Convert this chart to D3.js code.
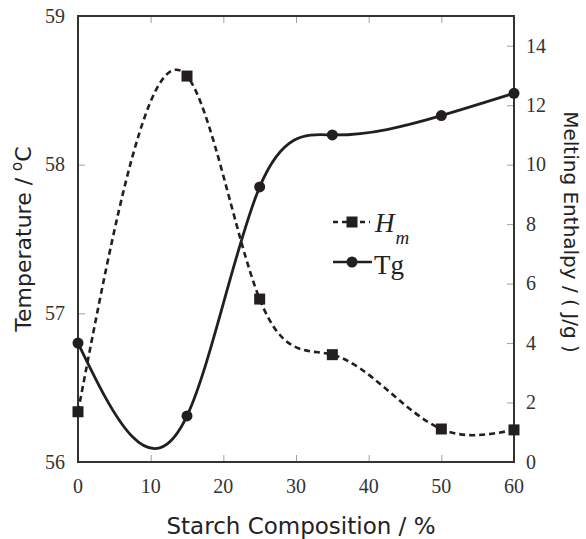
<!DOCTYPE html>
<html><head><meta charset="utf-8">
<script src="https://cdn.jsdelivr.net/npm/d3@7"></script>
<style>body{margin:0;background:#fff}</style>
</head><body>
<svg id="c" width="586" height="539"></svg>
<script>
const composition = [0, 15, 25, 35, 50, 60];
const tgValues = [56.80, 56.31, 57.85, 58.20, 58.33, 58.48];
const hmValues = [1.69, 12.98, 5.48, 3.61, 1.11, 1.08];
const xTicks = [0, 10, 20, 30, 40, 50, 60];
const leftTicks = [56, 57, 58, 59];
const rightTicks = [0, 2, 4, 6, 8, 10, 12, 14];

const svg = d3.select('#c');
const m = {l: 78, r: 514, t: 16, b: 462};
const x = d3.scaleLinear().domain([0, 60]).range([m.l, m.r]);
const yL = d3.scaleLinear().domain([56, 59]).range([m.b, m.t]);
const yR = d3.scaleLinear().domain([0, 15]).range([m.b, m.t]);

// natural cubic spline with x as the independent variable
function curveNaturalX(context) {
  let xs, ys;
  return {
    areaStart() {}, areaEnd() {},
    lineStart() { xs = []; ys = []; },
    point(px, py) { xs.push(+px); ys.push(+py); },
    lineEnd() {
      const n = xs.length;
      if (!n) return;
      context.moveTo(xs[0], ys[0]);
      if (n === 1) return;
      if (n === 2) { context.lineTo(xs[1], ys[1]); return; }
      const h = [], d = [];
      for (let i = 0; i < n - 1; i++) { h[i] = xs[i + 1] - xs[i]; d[i] = (ys[i + 1] - ys[i]) / h[i]; }
      const M = new Array(n).fill(0);
      const cp = [], rp = [];
      for (let i = 1; i < n - 1; i++) {
        const a = h[i - 1], b = 2 * (h[i - 1] + h[i]), c = h[i], r = 6 * (d[i] - d[i - 1]);
        const den = b - (i > 1 ? a * cp[i - 1] : 0);
        cp[i] = c / den;
        rp[i] = (r - (i > 1 ? a * rp[i - 1] : 0)) / den;
      }
      for (let i = n - 2; i >= 1; i--) M[i] = rp[i] - cp[i] * M[i + 1];
      for (let i = 0; i < n - 1; i++) {
        const s0 = d[i] - h[i] * (2 * M[i] + M[i + 1]) / 6;
        const s1 = d[i] + h[i] * (M[i] + 2 * M[i + 1]) / 6;
        context.bezierCurveTo(xs[i] + h[i] / 3, ys[i] + s0 * h[i] / 3,
                              xs[i + 1] - h[i] / 3, ys[i + 1] - s1 * h[i] / 3,
                              xs[i + 1], ys[i + 1]);
      }
    }
  };
}

const ink = '#231f20';
const serif = "'Liberation Serif', 'Times New Roman', serif";
const sans = "'DejaVu Sans', Verdana, sans-serif";

// ticks (inward, light grey)
const tickLen = 7, tickCol = '#a0a0a0';
const xAxisB = d3.axisBottom(x).tickValues(xTicks.slice(1, -1)).tickSize(-tickLen).tickFormat('');
const xAxisT = d3.axisTop(x).tickValues(xTicks.slice(1, -1)).tickSize(-tickLen).tickFormat('');
const yAxisL = d3.axisLeft(yL).tickValues(leftTicks.slice(1, -1)).tickSize(-tickLen).tickFormat('');
const yAxisR = d3.axisRight(yR).tickValues(rightTicks.slice(1)).tickSize(-tickLen).tickFormat('');
[[xAxisB, `translate(0,${m.b})`], [xAxisT, `translate(0,${m.t})`],
 [yAxisL, `translate(${m.l},0)`], [yAxisR, `translate(${m.r},0)`]].forEach(([ax, tr]) => {
  const g = svg.append('g').attr('transform', tr).call(ax);
  g.select('.domain').remove();
  g.selectAll('line').attr('stroke', tickCol).attr('stroke-width', 1);
});

// frame
svg.append('rect').attr('x', m.l).attr('y', m.t).attr('width', m.r - m.l).attr('height', m.b - m.t)
  .attr('fill', 'none').attr('stroke', '#333').attr('stroke-width', 2);

// tick labels
svg.append('g').selectAll('text').data(xTicks).join('text')
  .attr('x', d => x(d)).attr('y', 493).attr('text-anchor', 'middle')
  .attr('font-family', serif).attr('font-size', 20).attr('fill', '#333').text(d => d);
svg.append('g').selectAll('text').data(leftTicks).join('text')
  .attr('x', 65).attr('y', d => yL(d)).attr('dy', '0.34em').attr('text-anchor', 'end')
  .attr('font-family', serif).attr('font-size', 20).attr('fill', '#333').text(d => d);
svg.append('g').selectAll('text').data(rightTicks).join('text')
  .attr('x', 526).attr('y', d => yR(d)).attr('dy', '0.34em').attr('text-anchor', 'start')
  .attr('font-family', serif).attr('font-size', 20).attr('fill', '#333').text(d => d);

// axis titles
svg.append('text').attr('x', 301).attr('y', 534).attr('text-anchor', 'middle')
  .attr('font-family', sans).attr('font-size', 23).attr('fill', '#222').text('Starch Composition / %');
const lt = svg.append('text').attr('transform', 'translate(31,239) rotate(-90)').attr('text-anchor', 'middle')
  .attr('font-family', sans).attr('font-size', 22).attr('fill', '#222');
lt.append('tspan').text('Temperature / ');
lt.append('tspan').attr('font-size', 15).attr('dy', -9).text('o');
lt.append('tspan').attr('dy', 9).text('C');
svg.append('text').attr('transform', 'translate(564,232) rotate(90)').attr('text-anchor', 'middle')
  .attr('font-family', sans).attr('font-size', 20).attr('fill', '#222').text('Melting Enthalpy / ( J/g )');

// series
const lineHm = d3.line().x((d, i) => x(composition[i])).y(d => yR(d)).curve(curveNaturalX);
const lineTg = d3.line().x((d, i) => x(composition[i])).y(d => yL(d)).curve(curveNaturalX);
svg.append('path').attr('d', lineHm(hmValues)).attr('fill', 'none').attr('stroke', ink)
  .attr('stroke-width', 2.6).attr('stroke-dasharray', '6,4');
svg.append('path').attr('d', lineTg(tgValues)).attr('fill', 'none').attr('stroke', ink)
  .attr('stroke-width', 2.8);
const sq = 11;
svg.append('g').selectAll('rect').data(hmValues).join('rect')
  .attr('x', (d, i) => x(composition[i]) - sq / 2).attr('y', d => yR(d) - sq / 2)
  .attr('width', sq).attr('height', sq).attr('fill', ink);
svg.append('g').selectAll('circle').data(tgValues).join('circle')
  .attr('cx', (d, i) => x(composition[i])).attr('cy', d => yL(d)).attr('r', 5.5).attr('fill', ink);

// legend
const lg = svg.append('g');
lg.append('line').attr('x1', 333).attr('x2', 370).attr('y1', 222).attr('y2', 222)
  .attr('stroke', ink).attr('stroke-width', 2.6).attr('stroke-dasharray', '5,4');
lg.append('rect').attr('x', 352 - sq / 2).attr('y', 222 - sq / 2).attr('width', sq).attr('height', sq).attr('fill', ink);
const ht = lg.append('text').attr('x', 375).attr('y', 232).attr('font-family', serif)
  .attr('font-size', 27).attr('font-style', 'italic').attr('fill', '#222');
ht.append('tspan').text('H');
ht.append('tspan').attr('font-size', 19).attr('dx', 1).attr('dy', 12).text('m');
lg.append('line').attr('x1', 333).attr('x2', 372).attr('y1', 262).attr('y2', 262)
  .attr('stroke', ink).attr('stroke-width', 2.6);
lg.append('circle').attr('cx', 352).attr('cy', 262).attr('r', 5.5).attr('fill', ink);
lg.append('text').attr('x', 374).attr('y', 274).attr('font-family', serif)
  .attr('font-size', 27).attr('fill', '#222').text('Tg');
</script>
</body></html>
